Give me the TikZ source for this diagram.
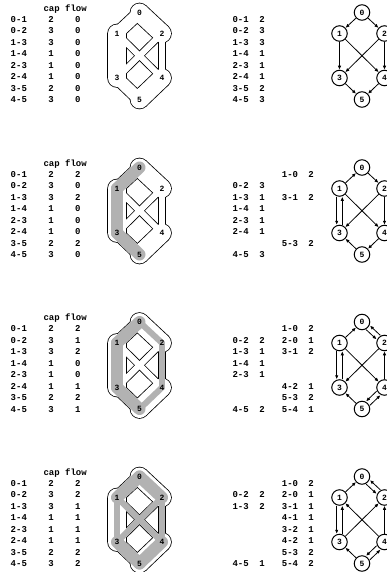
\documentclass[tikz,border=0pt]{standalone}
\usepackage{fontspec}
\setmonofont{Liberation Mono}
\usetikzlibrary{arrows.meta}

\newcommand{\tabfont}{\ttfamily\bfseries\fontsize{9}{10}\selectfont}
\newcommand{\labfont}{\ttfamily\bfseries\fontsize{8}{9}\selectfont}

\tikzset{
  tab/.style={font=\tabfont, inner sep=0pt, anchor=mid},
  tabl/.style={tab, anchor=mid west},
  vlabel/.style={font=\labfont, inner sep=0pt},
  vert/.style={circle, draw, line width=1pt, minimum size=15.5pt, inner sep=0pt, font=\labfont},
  arc/.style={->, line width=0.8pt},
  flowpipe/.style={black!30, line cap=round},
  >={Latex[length=4pt,width=3.5pt]},
}

% table, pipe network and graph vertices of one stage
\newcommand{\flownet}[1]{%
  % cap / flow table
  \node[tabl] (head) at (43.3,9) {cap flow};
  \foreach \ea/\eb/\cp/\fl [count=\i] in {#1} {
    \node[tabl] (e\i) at (10.5,{8.5+11.5*\i}) {\ea-\eb};
    \node[tab] (c\i) at (51,{8.5+11.5*\i}) {\cp};
    \node[tab] (f\i) at (77.7,{8.5+11.5*\i}) {\fl};
  }
  % pipe places and residual graph vertices
  \foreach \v/\x/\y in {0/139.5/12.5, 1/117/33.5, 2/162/33.5, 3/117/78, 4/162/78, 5/139.5/99.5} {
    \coordinate (v\v) at (\x,\y);
    \node[vert] (g\v) at ({\x+222.5},\y) {\v};
  }
  % pipes: outline, inside, flow
  \foreach \ea/\eb/\cp/\fl in {#1}
    \draw[line width=6pt*\cp+1.6pt] (v\ea) -- (v\eb);
  \foreach \v in {0,...,5}
    \fill (v\v) circle (9.8);
  \foreach \ea/\eb/\cp/\fl in {#1}
    \draw[white, line width=6pt*\cp] (v\ea) -- (v\eb);
  \foreach \v in {0,...,5}
    \fill[white] (v\v) circle (9);
  \foreach \ea/\eb/\cp/\fl in {#1}
    {\ifnum\fl>0 \draw[flowpipe, line width=6pt*\fl] (v\ea) -- (v\eb);\fi}
  \foreach \v in {0,...,5}
    \node[vlabel] (n\v) at (v\v) {\v};
}

\begin{document}
\begin{tikzpicture}[x=1pt, y=-1pt]
  \useasboundingbox (0,0) rectangle (387,572);

  % stage 1: no flow
  \begin{scope}
    \flownet{0/1/2/0, 0/2/3/0, 1/3/3/0, 1/4/1/0, 2/3/1/0, 2/4/1/0, 3/5/2/0, 4/5/3/0}
    \foreach \r/\e/\n in {1/0-1/2, 2/0-2/3, 3/1-3/3, 4/1-4/1, 5/2-3/1, 6/2-4/1, 7/3-5/2, 8/4-5/3} {
      \node[tabl] (r\r) at (232.3,{8.5+11.5*\r}) {\e};
      \node[tab] (rn\r) at (262,{8.5+11.5*\r}) {\n};
    }
    \draw[arc] (g0) -- (g1);
    \draw[arc] (g0) -- (g2);
    \draw[arc] (g1) -- (g3);
    \draw[arc] (g1) -- (g4);
    \draw[arc] (g2) -- (g3);
    \draw[arc] (g2) -- (g4);
    \draw[arc] (g3) -- (g5);
    \draw[arc] (g4) -- (g5);
  \end{scope}

  % stage 2: path 0-1-3-5
  \begin{scope}[yshift=-155pt]
    \flownet{0/1/2/2, 0/2/3/0, 1/3/3/2, 1/4/1/0, 2/3/1/0, 2/4/1/0, 3/5/2/2, 4/5/3/0}
    \foreach \r/\e/\n in {2/0-2/3, 3/1-3/1, 4/1-4/1, 5/2-3/1, 6/2-4/1, 8/4-5/3} {
      \node[tabl] (r\r) at (232.3,{8.5+11.5*\r}) {\e};
      \node[tab] (rn\r) at (262,{8.5+11.5*\r}) {\n};
    }
    \foreach \r/\e/\n in {1/1-0/2, 3/3-1/2, 7/5-3/2} {
      \node[tabl] (b\r) at (281.7,{8.5+11.5*\r}) {\e};
      \node[tab] (bn\r) at (311,{8.5+11.5*\r}) {\n};
    }
    \draw[arc] (g1) -- (g0);
    \draw[arc] (g0) -- (g2);
    \draw[arc, transform canvas={xshift=-2.8pt}] (g1) -- (g3);
    \draw[arc, transform canvas={xshift=2.8pt}] (g3) -- (g1);
    \draw[arc] (g1) -- (g4);
    \draw[arc] (g2) -- (g3);
    \draw[arc] (g2) -- (g4);
    \draw[arc] (g5) -- (g3);
    \draw[arc] (g4) -- (g5);
  \end{scope}

  % stage 3: path 0-2-4-5
  \begin{scope}[yshift=-309.5pt]
    \flownet{0/1/2/2, 0/2/3/1, 1/3/3/2, 1/4/1/0, 2/3/1/0, 2/4/1/1, 3/5/2/2, 4/5/3/1}
    \foreach \r/\e/\n in {2/0-2/2, 3/1-3/1, 4/1-4/1, 5/2-3/1, 8/4-5/2} {
      \node[tabl] (r\r) at (232.3,{8.5+11.5*\r}) {\e};
      \node[tab] (rn\r) at (262,{8.5+11.5*\r}) {\n};
    }
    \foreach \r/\e/\n in {1/1-0/2, 2/2-0/1, 3/3-1/2, 6/4-2/1, 7/5-3/2, 8/5-4/1} {
      \node[tabl] (b\r) at (281.7,{8.5+11.5*\r}) {\e};
      \node[tab] (bn\r) at (311,{8.5+11.5*\r}) {\n};
    }
    \draw[arc] (g1) -- (g0);
    \draw[arc, transform canvas={shift={(-1.9pt,-2pt)}}] (g0) -- (g2);
    \draw[arc, transform canvas={shift={(1.9pt,2pt)}}] (g2) -- (g0);
    \draw[arc, transform canvas={xshift=-2.8pt}] (g1) -- (g3);
    \draw[arc, transform canvas={xshift=2.8pt}] (g3) -- (g1);
    \draw[arc] (g1) -- (g4);
    \draw[arc] (g2) -- (g3);
    \draw[arc] (g4) -- (g2);
    \draw[arc] (g5) -- (g3);
    \draw[arc, transform canvas={shift={(-1.9pt,2pt)}}] (g4) -- (g5);
    \draw[arc, transform canvas={shift={(1.9pt,-2pt)}}] (g5) -- (g4);
  \end{scope}

  % stage 4: path 0-2-3-1-4-5
  \begin{scope}[yshift=-464pt]
    \flownet{0/1/2/2, 0/2/3/2, 1/3/3/1, 1/4/1/1, 2/3/1/1, 2/4/1/1, 3/5/2/2, 4/5/3/2}
    \foreach \r/\e/\n in {2/0-2/2, 3/1-3/2, 8/4-5/1} {
      \node[tabl] (r\r) at (232.3,{8.5+11.5*\r}) {\e};
      \node[tab] (rn\r) at (262,{8.5+11.5*\r}) {\n};
    }
    \foreach \r/\e/\n in {1/1-0/2, 2/2-0/1, 3/3-1/1, 4/4-1/1, 5/3-2/1, 6/4-2/1, 7/5-3/2, 8/5-4/2} {
      \node[tabl] (b\r) at (281.7,{8.5+11.5*\r}) {\e};
      \node[tab] (bn\r) at (311,{8.5+11.5*\r}) {\n};
    }
    \draw[arc] (g1) -- (g0);
    \draw[arc, transform canvas={shift={(-1.9pt,-2pt)}}] (g0) -- (g2);
    \draw[arc, transform canvas={shift={(1.9pt,2pt)}}] (g2) -- (g0);
    \draw[arc, transform canvas={xshift=-2.8pt}] (g1) -- (g3);
    \draw[arc, transform canvas={xshift=2.8pt}] (g3) -- (g1);
    \draw[arc] (g4) -- (g1);
    \draw[arc] (g3) -- (g2);
    \draw[arc] (g4) -- (g2);
    \draw[arc] (g5) -- (g3);
    \draw[arc, transform canvas={shift={(-1.9pt,2pt)}}] (g4) -- (g5);
    \draw[arc, transform canvas={shift={(1.9pt,-2pt)}}] (g5) -- (g4);
  \end{scope}
\end{tikzpicture}
\end{document}
